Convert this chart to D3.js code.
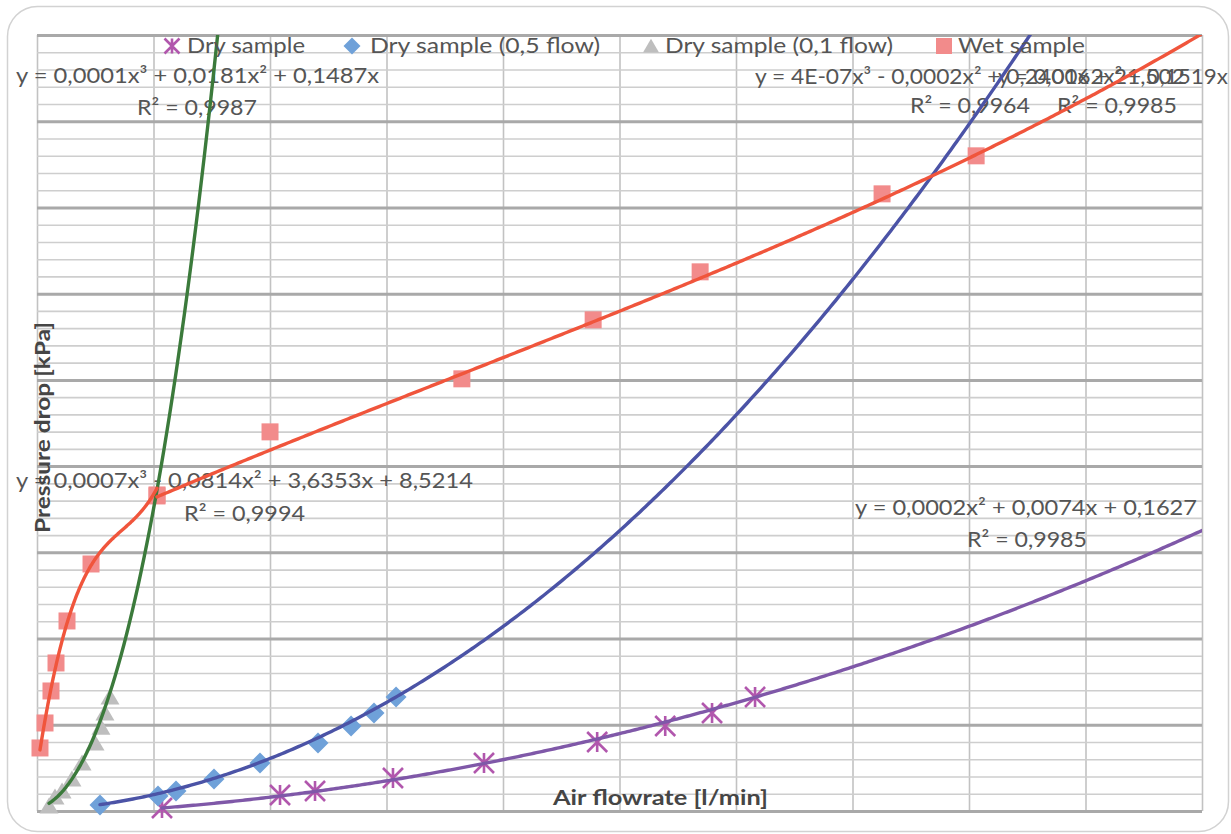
<!DOCTYPE html>
<html>
<head>
<meta charset="utf-8">
<script src="https://cdn.jsdelivr.net/npm/d3@7"></script>
<style>
  body { margin: 0; background: #fff; }
  svg { display: block; }
  text { font-family: Lato, "Open Sans", sans-serif; }
</style>
</head>
<body>
<svg id="chart" width="1231" height="834"></svg>
<script>
// ---- measured series (flow, pressure drop) ----
const dryFlow   = [22.96, 44.64, 51.07, 65.39, 82.11, 102.9, 115.4, 124.0, 131.9];
const dryDrop   = [0.438, 0.928, 1.079, 1.569, 2.135, 2.927, 3.531, 4.022, 4.626];
const dry05Flow = [20.58, 39.53, 45.41, 57.82, 72.85, 91.80, 102.6, 110.1, 117.3];
const dry05Drop = [5.43, 13.57, 18.09, 28.94, 43.41, 61.50, 76.87, 88.63, 103.1];
const dry01Flow = [5.46, 8.19, 11.4, 15.9, 20.5, 26.4, 29.1, 30.9, 33.2];
const dry01Drop = [0.73, 2.94, 4.41, 7.36, 11.3, 16.2, 20.1, 23.6, 27.5];
const wetLowFlow  = [1.36, 3.64, 6.36, 8.64, 13.64, 24.55, 54.55];
const wetLowDrop  = [13.8, 20.0, 27.94, 34.89, 45.31, 59.45, 76.33];
const wetHighFlow = [53.33, 97.06, 171.3, 222.1, 263.5, 333.9, 370.3];
const wetHighDrop = [34.19, 47.00, 57.77, 69.75, 79.50, 95.34, 103.06];

// ---- axis ranges of each series (axes are hidden) ----
const dryFlowAxis = [0, 214],        dryDropAxis = [0.325, 29.6];
const dry05FlowAxis = [0, 380.6],    dry05DropAxis = [0, 701.8];
const dry01FlowAxis = [0, 530],      dry01DropAxis = [-0.5, 190];
const wetLowFlowAxis = [0, 529.5],   wetLowDropAxis = [-1.84, 190.7];
const wetHighFlowAxis = [6.89, 457.7], wetHighDropAxis = [-30.0, 127.6];

// ---- trendline coefficients (constant, x, x², x³) and R² ----
const dryTrend     = [0.1627, 0.0074, 0.0002];
const dry05Trend   = [0, 0.1519, 0.0062];
const dry01Trend   = [0, 0.1487, 0.0181, 0.0001];
const wetLowTrend  = [8.5214, 3.6353, -0.0814, 0.0007];
const wetHighTrend = [21.502, 0.2401, -0.0002, 4e-7];
const dryR2 = 0.9985, dry05R2 = 0.9985, dry01R2 = 0.9987, wetLowR2 = 0.9994, wetHighR2 = 0.9964;

// ---- legend / titles ----
const legendNames = ["Dry sample", "Dry sample (0,5 flow)", "Dry sample (0,1 flow)", "Wet sample"];
const xTitle = "Air flowrate [l/min]";
const yTitle = "Pressure drop [kPa]";

// ---------------------------------------------------------------
const svg = d3.select("#chart");
const plot = { left: 37, right: 1202, top: 35, bottom: 811 };
const textColor = "#555555";

// outer chart border
svg.append("rect")
  .attr("x", 7.5).attr("y", 6.5).attr("width", 1221).attr("height", 825)
  .attr("rx", 30).attr("ry", 30)
  .attr("fill", "#fff").attr("stroke", "#d2d2d2").attr("stroke-width", 1.5);

// gridlines (10 vertical divisions, 9 major x 5 minor horizontal)
const gx = d3.scaleLinear([0, 10], [plot.left, plot.right]);
const gy = d3.scaleLinear([0, 45], [plot.bottom, plot.top]);
const gridG = svg.append("g");

function styleGrid(g, color, width) {
  g.select(".domain").remove();
  g.selectAll(".tick line").attr("stroke", color).attr("stroke-width", width);
}
gridG.append("g")
  .attr("transform", `translate(0,${plot.bottom})`)
  .call(d3.axisBottom(gx).tickValues(d3.range(0, 11)).tickSize(-(plot.bottom - plot.top)).tickFormat(""))
  .call(g => styleGrid(g, "#c2c2c2", 1.6));
gridG.append("g")
  .attr("transform", `translate(${plot.left},0)`)
  .call(d3.axisLeft(gy).tickValues(d3.range(0, 46).filter(d => d % 5 !== 0)).tickSize(-(plot.right - plot.left)).tickFormat(""))
  .call(g => styleGrid(g, "#cecece", 1.6));
gridG.append("g")
  .attr("transform", `translate(${plot.left},0)`)
  .call(d3.axisLeft(gy).tickValues(d3.range(0, 46, 5)).tickSize(-(plot.right - plot.left)).tickFormat(""))
  .call(g => styleGrid(g, "#a9a9a9", 3));

// clip for trendlines
svg.append("clipPath").attr("id", "plotClip")
  .append("rect")
  .attr("x", plot.left).attr("y", plot.top)
  .attr("width", plot.right - plot.left).attr("height", plot.bottom - plot.top);

// marker shapes
function markerPath(type, s) {
  if (type === "asterisk") return `M0,${-s}L0,${s}M${-s},${-s}L${s},${s}M${-s},${s}L${s},${-s}`;
  if (type === "diamond") return `M0,${-s}L${s},0L0,${s}L${-s},0Z`;
  if (type === "triangle") return `M0,${-s * 0.9}L${s},${s * 0.8}L${-s},${s * 0.8}Z`;
  return `M${-s},${-s}L${s},${-s}L${s},${s}L${-s},${s}Z`;
}
function drawMarker(g, type, s, color) {
  const p = g.append("path").attr("d", markerPath(type, s));
  if (type === "asterisk") p.attr("fill", "none").attr("stroke", color).attr("stroke-width", 2.6);
  else p.attr("fill", color);
  return p;
}

const series = [
  { flow: dryFlow, drop: dryDrop, xa: dryFlowAxis, ya: dryDropAxis, trend: dryTrend, r2: dryR2,
    marker: "asterisk", size: 10, fill: "#b157ad", line: "#7f58a8", forecast: true },
  { flow: dry05Flow, drop: dry05Drop, xa: dry05FlowAxis, ya: dry05DropAxis, trend: dry05Trend, r2: dry05R2,
    marker: "diamond", size: 10.5, fill: "#6fa1d9", line: "#4b53a6", forecast: true },
  { flow: dry01Flow, drop: dry01Drop, xa: dry01FlowAxis, ya: dry01DropAxis, trend: dry01Trend, r2: dry01R2,
    marker: "triangle", size: 9.5, fill: "#bebebe", line: "#3b7a3b", forecast: true },
  { flow: wetLowFlow, drop: wetLowDrop, xa: wetLowFlowAxis, ya: wetLowDropAxis, trend: wetLowTrend, r2: wetLowR2,
    marker: "square", size: 8.5, fill: "#f28b8b", line: "#f0553c", forecast: false },
  { flow: wetHighFlow, drop: wetHighDrop, xa: wetHighFlowAxis, ya: wetHighDropAxis, trend: wetHighTrend, r2: wetHighR2,
    marker: "square", size: 8.5, fill: "#f28b8b", line: "#f0553c", forecast: true }
];

series.forEach(s => {
  s.x = d3.scaleLinear(s.xa, [plot.left, plot.right]);
  s.y = d3.scaleLinear(s.ya, [plot.bottom, plot.top]);
});

// markers
const markG = svg.append("g");
series.forEach(s => {
  s.flow.forEach((f, i) => {
    const g = markG.append("g").attr("transform", `translate(${s.x(f)},${s.y(s.drop[i])})`);
    drawMarker(g, s.marker, s.size, s.fill);
  });
});

// polynomial trendlines
const poly = (c, x) => c.reduce((acc, ci, i) => acc + ci * Math.pow(x, i), 0);
const trendG = svg.append("g").attr("clip-path", "url(#plotClip)");
series.forEach(s => {
  const x0 = d3.min(s.flow);
  const x1 = s.forecast ? s.xa[1] : d3.max(s.flow);
  const xs = d3.range(0, 401).map(i => x0 + (x1 - x0) * i / 400);
  const line = d3.line().x(d => s.x(d)).y(d => s.y(poly(s.trend, d)));
  trendG.append("path").datum(xs)
    .attr("d", line)
    .attr("fill", "none").attr("stroke", s.line).attr("stroke-width", 3.4)
    .attr("stroke-linejoin", "round").attr("stroke-linecap", "round");
});

// equation labels
function fmtNum(v) {
  const a = Math.abs(v);
  if (a !== 0 && a < 1e-4) {
    const [m, e] = a.toExponential(0).split("e");
    const ei = parseInt(e, 10);
    return m.replace(".", ",") + "E" + (ei < 0 ? "-" : "+") + String(Math.abs(ei)).padStart(2, "0");
  }
  return String(+a.toFixed(4)).replace(".", ",");
}
const powers = ["", "x", "x²", "x³"];
function equation(c) {
  let s = "";
  for (let d = c.length - 1; d >= 0; d--) {
    const v = c[d];
    if (!v) continue;
    const t = fmtNum(v) + powers[d];
    s += s === "" ? (v < 0 ? "-" : "") + t : (v < 0 ? " - " : " + ") + t;
  }
  return "y = " + s;
}
const r2Text = r => "R² = " + String(r).replace(".", ",");

// label layout: [equation x, baseline, width], [R² x, baseline, width]
const labelLayout = [
  { eq: [855, 515, 342], r2: [967, 547, 120] },
  { eq: [998, 84, 230], r2: [1057, 113, 120] },
  { eq: [16, 83, 363], r2: [137, 115, 120] },
  { eq: [16, 488, 457], r2: [184, 521, 121] },
  { eq: [755, 84, 430], r2: [910, 113, 120] }
];
const labelG = svg.append("g").attr("fill", textColor).attr("font-size", 22);
function fitText(g, str, x, y, w) {
  g.append("text").attr("x", x).attr("y", y).text(str)
    .attr("textLength", w).attr("lengthAdjust", "spacingAndGlyphs");
}
series.forEach((s, i) => {
  const L = labelLayout[i];
  fitText(labelG, equation(s.trend), L.eq[0], L.eq[1], L.eq[2]);
  fitText(labelG, r2Text(s.r2), L.r2[0], L.r2[1], L.r2[2]);
});

// draw trendlines above the labels
trendG.raise();

// legend
const legendLayout = [
  { mx: 172, tx: 187, w: 118 },
  { mx: 352, tx: 370, w: 230 },
  { mx: 651, tx: 665, w: 228 },
  { mx: 944, tx: 958, w: 127 }
];
const legendSize = { asterisk: 7.5, diamond: 8.5, triangle: 8, square: 8 };
const legendG = svg.append("g");
legendNames.forEach((name, i) => {
  const s = series[i];
  const L = legendLayout[i];
  const g = legendG.append("g").attr("transform", `translate(${L.mx},46)`);
  drawMarker(g, s.marker, legendSize[s.marker], s.fill);
  legendG.append("text").attr("x", L.tx).attr("y", 53)
    .attr("fill", textColor).attr("font-size", 22)
    .attr("textLength", L.w).attr("lengthAdjust", "spacingAndGlyphs")
    .text(name);
});

// axis titles
svg.append("text")
  .attr("x", 553).attr("y", 805)
  .attr("fill", "#454545").attr("font-size", 21).attr("font-weight", 700)
  .attr("textLength", 215).attr("lengthAdjust", "spacingAndGlyphs")
  .text(xTitle);
svg.append("text")
  .attr("transform", "translate(50,533) rotate(-90)")
  .attr("fill", "#454545").attr("font-size", 21).attr("font-weight", 700)
  .attr("textLength", 211).attr("lengthAdjust", "spacingAndGlyphs")
  .text(yTitle);
</script>
</body>
</html>
